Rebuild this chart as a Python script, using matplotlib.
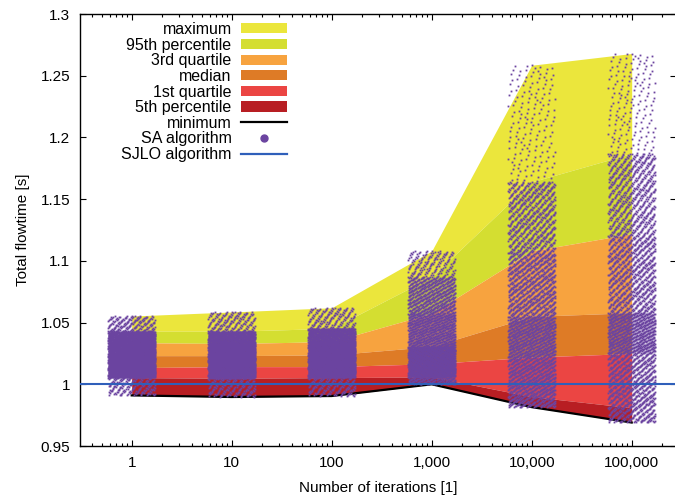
import numpy as np
import matplotlib
matplotlib.use("Agg")
import matplotlib.pyplot as plt
from matplotlib.patches import Patch
from matplotlib.lines import Line2D
from matplotlib.ticker import FixedLocator, FixedFormatter, LogLocator, NullFormatter

plt.rcParams['font.family'] = ['Liberation Sans', 'DejaVu Sans']

# number of iterations of the SA algorithm
iterations = [1, 10, 100, 1000, 10000, 100000]
iter_labels = ['1', '10', '100', '1,000', '10,000', '100,000']

# percentiles of the total flowtime over all SA runs
minimum = [0.991, 0.9897, 0.9905, 1.000, 0.9815, 0.969]
p5 = [1.0054, 1.0049, 1.0054, 1.006, 0.990, 0.981]
q1 = [1.0135, 1.0143, 1.0143, 1.0167, 1.022, 1.025]
median = [1.0232, 1.0232, 1.0238, 1.0306, 1.055, 1.058]
q3 = [1.0337, 1.033, 1.0346, 1.0575, 1.108, 1.122]
p95 = [1.043, 1.043, 1.0453, 1.087, 1.164, 1.187]
maximum = [1.0553, 1.0586, 1.062, 1.108, 1.2585, 1.268]
percent_levels = [0, 5, 25, 50, 75, 95, 100]

sjlo = 1.0

yticks = [0.95, 1.0, 1.05, 1.1, 1.15, 1.2, 1.25, 1.3]
ytick_labels = ['0.95', '1', '1.05', '1.1', '1.15', '1.2', '1.25', '1.3']

# colours
c_max = '#ebe63c'
c_95 = '#d4de31'
c_q3 = '#f7a33f'
c_med = '#de7b26'
c_q1 = '#eb4543'
c_p5 = '#b81e23'
c_sa = '#6b44a0'
c_sjlo = '#2f5fba'

fig = plt.figure(figsize=(6.75, 4.97), dpi=100)
ax = fig.add_axes([80 / 675, 51 / 497, 596 / 675, 432 / 497])

# bands between percentiles
ax.fill_between(iterations, p95, maximum, color=c_max, lw=0, zorder=1)
ax.fill_between(iterations, q3, p95, color=c_95, lw=0, zorder=1)
ax.fill_between(iterations, median, q3, color=c_q3, lw=0, zorder=1)
ax.fill_between(iterations, q1, median, color=c_med, lw=0, zorder=1)
ax.fill_between(iterations, p5, q1, color=c_q1, lw=0, zorder=1)
ax.fill_between(iterations, minimum, p5, color=c_p5, lw=0, zorder=1)
ax.plot(iterations, minimum, color='black', lw=1.6, zorder=2)

# SA runs: each column drawn at evenly spread quantile levels of the
# percentiles above, with an evenly spread horizontal offset
n_dots = 3500
a1, a2 = 0.7548776662, 0.5698402910
idx = np.arange(1, n_dots + 1)
for k, it in enumerate(iterations):
    qs = [minimum[k], p5[k], q1[k], median[k], q3[k], p95[k], maximum[k]]
    pct = ((idx * a1 + 0.5) % 1.0) * 100
    ys = np.interp(pct, percent_levels, qs)
    u = (idx * a2 + 0.5) % 1.0
    xs = it * 10 ** ((u - 0.5) * 0.47)
    ax.plot(xs, ys, ls='none', marker='s', ms=1.3, mew=0, color=c_sa, zorder=3)

ax.axhline(sjlo, color=c_sjlo, lw=1.5, zorder=4)

ax.set_xscale('log')
ax.set_xlim(10 ** -0.517, 10 ** 5.443)
ax.set_ylim(0.95, 1.3)
ax.xaxis.set_major_locator(FixedLocator(iterations))
ax.xaxis.set_major_formatter(FixedFormatter(iter_labels))
ax.xaxis.set_minor_locator(LogLocator(base=10, subs=np.arange(2, 10), numticks=20))
ax.xaxis.set_minor_formatter(NullFormatter())
ax.yaxis.set_major_locator(FixedLocator(yticks))
ax.yaxis.set_major_formatter(FixedFormatter(ytick_labels))

ax.tick_params(which='both', direction='in', top=True, right=True, labelsize=11, width=0.8)
ax.tick_params(which='major', length=4.3, pad=7)
ax.tick_params(which='minor', length=2.2)
for s in ax.spines.values():
    s.set_linewidth(1.0)

ax.set_xlabel('Number of iterations [1]', fontsize=11, labelpad=8)
ax.set_ylabel('Total flowtime [s]', fontsize=11, labelpad=8)

handles = [Patch(fc=c_max), Patch(fc=c_95), Patch(fc=c_q3), Patch(fc=c_med),
           Patch(fc=c_q1), Patch(fc=c_p5),
           Line2D([], [], color='black', lw=1.6),
           Line2D([], [], ls='none', marker='o', ms=5, color=c_sa),
           Line2D([], [], color=c_sjlo, lw=1.6)]
labels = ['maximum', '95th percentile', '3rd quartile', 'median', '1st quartile',
          '5th percentile', 'minimum', 'SA algorithm', 'SJLO algorithm']
ax.legend(handles, labels, loc='upper right', bbox_to_anchor=(287 / 675, 1 - 22 / 497),
          bbox_transform=fig.transFigure, frameon=False, markerfirst=False,
          fontsize=11.5, handlelength=2.85, handleheight=0.6, handletextpad=0.62,
          labelspacing=0.04, borderpad=0, borderaxespad=0)

fig.savefig('out.png', dpi=100)
